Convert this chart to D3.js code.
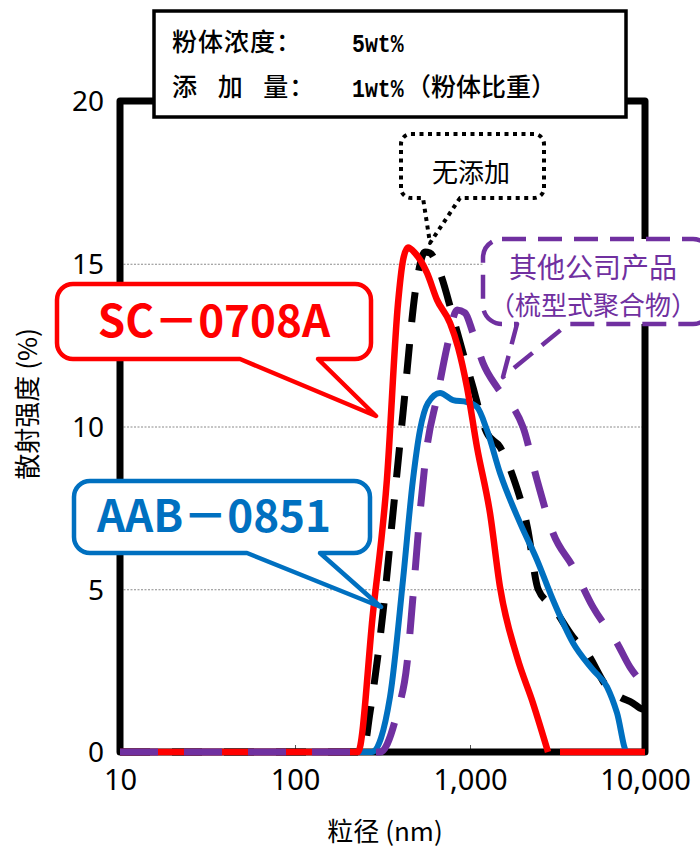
<!DOCTYPE html>
<html><head><meta charset="utf-8">
<script src="https://cdn.jsdelivr.net/npm/d3@7"></script>
<style>body{margin:0;background:#fff}</style>
</head><body><svg id="c" width="700" height="849"></svg>
<script>
// ---- data ----
const xTicks = [10, 100, 1000, 10000];
const yTicks = [0, 5, 10, 15, 20];
const gridTicks = [5, 10, 15];
// [particle size nm, scattering intensity %]
const noAdditive = [[10,0],[245,0],[268,1.2],[318,4.27],[363,7.34],[414,10.41],[498,14.5],[553,15.36],[591,15.33],[674,14.72],[800,13.36],[912,12.26],[1040,11.21],[1186,10.1],[1250,9.8],[1484,9.37],[1762,8.45],[2128,6.9],[2452,5.0],[2981,4.45],[3880,3.53],[4667,3.04],[6067,2.0],[7197,1.69],[8537,1.5],[9354,1.35],[10000,1.3]];
const aab0851 = [[10,0],[275,0],[349,1.69],[414,5.28],[472,8.36],[518,9.89],[575,10.72],[674,11.03],[800,10.81],[961,10.75],[1096,10.6],[1250,9.89],[1484,8.57],[1931,7.04],[2415,5.9],[2981,4.67],[3880,3.35],[5047,2.52],[6067,2.0],[6918,1.2],[7889,0],[10000,0]];
const sc0708a = [[10,0],[229,0],[279,4.27],[335,8.36],[388,13.8],[414,15.1],[442,15.5],[485,15.33],[568,14.72],[648,13.89],[769,13.18],[854,12.44],[961,11.21],[1096,9.37],[1301,7.34],[1484,5.07],[1857,2.92],[2291,1.5],[2792,0],[3000,null],[3268,0],[10000,0]];
const combPolymer = [[10,0],[306,0],[383,1.2],[437,2.73],[472,4.76],[518,7.34],[568,9.37],[648,10.9],[739,12.44],[843,13.58],[936,13.49],[1040,12.87],[1186,11.95],[1426,11.21],[1762,10.6],[2009,9.98],[2415,8.36],[2981,6.73],[3880,5.68],[5047,4.45],[6918,3.35],[8206,2.61],[9354,2.21],[10000,2.05]];
const infoLabels = ["粉体浓度：", "添 加 量："];
const infoValues = ["5wt%", "1wt%"];
const infoNotes = ["", "（粉体比重）"];

const svg = d3.select("#c");
const x = d3.scaleLog().domain([10, 10000]).range([120, 645]);
const y = d3.scaleLinear().domain([0, 20]).range([752, 101]);

// gridlines
const grid = svg.append("g").attr("transform", "translate(120,0)")
  .call(d3.axisLeft(y).tickValues(gridTicks).tickSize(-525).tickFormat(""));
grid.select(".domain").remove();
grid.selectAll("line").attr("stroke", "#8a8a8a").attr("stroke-width", 1).attr("stroke-dasharray", "2,1.5");

// x axis labels + inner ticks
const xa = svg.append("g").attr("transform", "translate(0,752)")
  .call(d3.axisBottom(x).tickValues(xTicks).tickFormat(d3.format(",")).tickSizeInner(-7).tickSizeOuter(0));
xa.select(".domain").remove();
xa.selectAll("line").attr("stroke", "#555").attr("stroke-width", 1);
xa.selectAll("text").attr("y", 38).attr("dy", 0).attr("fill", "#000")
  .style("font-family", "'Noto Sans', sans-serif").style("font-size", "29px");

// y axis labels
const ya = svg.append("g").attr("transform", "translate(120,0)")
  .call(d3.axisLeft(y).tickValues(yTicks).tickSize(0));
ya.select(".domain").remove();
ya.selectAll("text").attr("x", -16).attr("dy", "0.35em").attr("fill", "#000")
  .style("font-family", "'Noto Sans', sans-serif").style("font-size", "28px");

// frame
svg.append("rect").attr("x", x(10)).attr("y", y(20)).attr("width", x(10000) - x(10)).attr("height", y(0) - y(20))
  .attr("fill", "none").attr("stroke", "#000").attr("stroke-width", 7).attr("stroke-linejoin", "round");

// axis titles
svg.append("text").attr("x", 385).attr("y", 841).attr("text-anchor", "middle")
  .style("font-family", "'Noto Sans CJK SC', sans-serif").style("font-size", "26px").text("粒径 (nm)");
svg.append("text").attr("transform", "translate(37,404) rotate(-90)").attr("text-anchor", "middle")
  .style("font-family", "'Noto Sans CJK SC', sans-serif").style("font-size", "26px").text("散射强度 (%)");

// curves
const line = d3.line().defined(d => d[1] !== null).x(d => x(d[0])).y(d => y(d[1])).curve(d3.curveMonotoneX);
const series = [
  {data: noAdditive, color: "#000", w: 7, dash: "30,22"},
  {data: aab0851, color: "#0070C0", w: 6, dash: null},
  {data: sc0708a, color: "#FF0000", w: 6.5, dash: null},
  {data: combPolymer, color: "#7030A0", w: 7, dash: "38,26"}
];
series.forEach(s => {
  svg.append("path").attr("d", line(s.data)).attr("fill", "none")
    .attr("stroke", s.color).attr("stroke-width", s.w)
    .attr("stroke-dasharray", s.dash).attr("stroke-linejoin", "round");
});

// callouts
function callout(b) {
  const {x0, y0, x1, y1, r, a, c, tx, ty} = b;
  return `M${x0 + r},${y0}H${x1 - r}A${r},${r} 0 0 1 ${x1},${y0 + r}V${y1 - r}A${r},${r} 0 0 1 ${x1 - r},${y1}` +
    `H${c}L${tx},${ty}L${a},${y1}H${x0 + r}A${r},${r} 0 0 1 ${x0},${y1 - r}V${y0 + r}A${r},${r} 0 0 1 ${x0 + r},${y0}Z`;
}
const callouts = [
  {x0: 57, y0: 284, x1: 371, y1: 359, r: 16, a: 240, c: 318, tx: 376, ty: 416, color: "#FF0000", sw: 4.5, dash: null,
   lines: ["SC－0708A"], tx0: 214, ty0: [337], fs: [44], fw: 700},
  {x0: 74, y0: 481, x1: 370, y1: 553, r: 16, a: 247, c: 320, tx: 381, ty: 607, color: "#0070C0", sw: 4.5, dash: null,
   lines: ["AAB－0851"], tx0: 214, ty0: [532], fs: [44], fw: 700},
  {x0: 401, y0: 134, x1: 544, y1: 198, r: 10, a: 423, c: 460, tx: 430, ty: 243, color: "#000", sw: 4, dash: "4,4.5",
   lines: ["无添加"], tx0: 471, ty0: [182], fs: [26], fw: 400},
  {x0: 483, y0: 239, x1: 712, y1: 324, r: 19, a: 517, c: 568, tx: 503, ty: 377, color: "#7030A0", sw: 4.5, dash: "24,12",
   lines: ["其他公司产品", "（梳型式聚合物）"], tx0: 593, ty0: [278, 315], fs: [28, 26], fw: 400}
];
callouts.forEach(b => {
  svg.append("path").attr("d", callout(b)).attr("fill", "#fff").attr("stroke", b.color)
    .attr("stroke-width", b.sw).attr("stroke-dasharray", b.dash).attr("stroke-linejoin", "round");
  b.lines.forEach((t, i) => {
    svg.append("text").attr("x", b.tx0).attr("y", b.ty0[i]).attr("text-anchor", "middle")
      .attr("fill", b.color).style("font-family", "'Noto Sans CJK SC', sans-serif")
      .style("font-size", b.fs[i] + "px").style("font-weight", b.fw).text(t);
  });
});

// info box
svg.append("rect").attr("x", 154).attr("y", 11).attr("width", 472).attr("height", 106)
  .attr("fill", "#fff").attr("stroke", "#000").attr("stroke-width", 3.5);
infoLabels.forEach((t, i) => {
  svg.append("text").attr("x", 172).attr("y", 51 + i * 45).style("font-family", "'Noto Sans CJK SC', sans-serif")
    .style("font-size", "25px").style("font-weight", 500).style("letter-spacing", "1px")
    .style("word-spacing", "13px").style("white-space", "pre").text(t);
});
infoValues.forEach((t, i) => {
  svg.append("text").attr("transform", `translate(352,${52 + i * 45}) scale(1,1.22)`)
    .style("font-family", "'Liberation Mono', monospace")
    .style("font-size", "21.5px").style("font-weight", 700).text(t);
});
infoNotes.forEach((t, i) => {
  if (!t) return;
  svg.append("text").attr("x", 406).attr("y", 51 + i * 45).style("font-family", "'Noto Sans CJK SC', sans-serif")
    .style("font-size", "25px").style("font-weight", 500).text(t);
});
</script></body></html>
